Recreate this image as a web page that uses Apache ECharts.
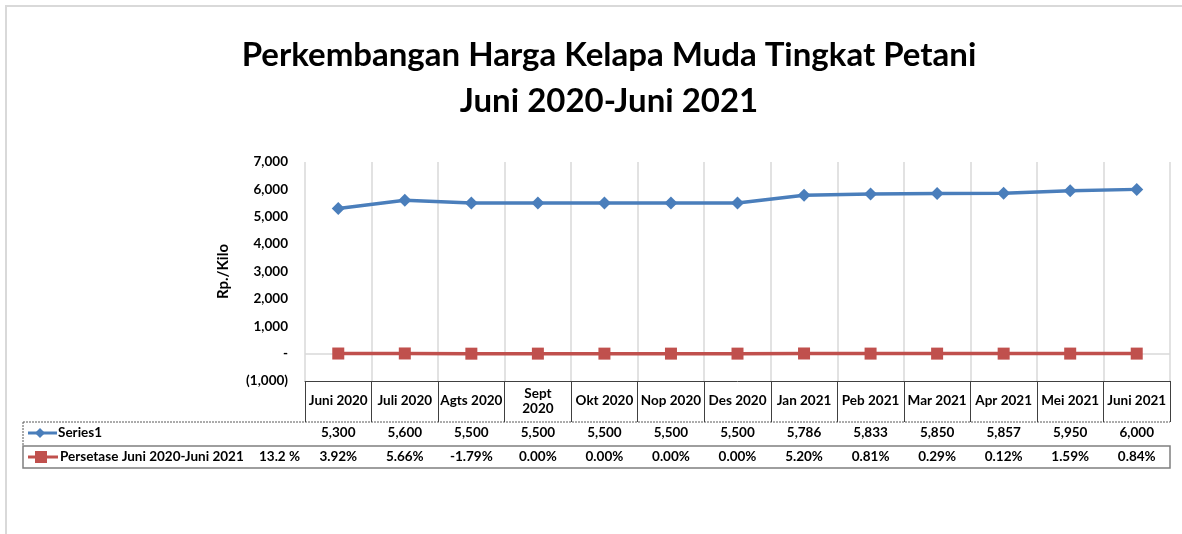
<!DOCTYPE html>
<html>
<head>
<meta charset="utf-8">
<script src="https://cdn.jsdelivr.net/npm/echarts@6/dist/echarts.min.js"></script>
<style>html,body{margin:0;padding:0;background:#fff;}#c{width:1182px;height:534px;}</style>
</head>
<body>
<div id="c"></div>
<script>
var categories = ['Juni 2020','Juli 2020','Agts 2020','Sept\n2020','Okt 2020','Nop 2020','Des 2020','Jan 2021','Peb 2021','Mar 2021','Apr 2021','Mei 2021','Juni 2021'];
var price = [5300,5600,5500,5500,5500,5500,5500,5786,5833,5850,5857,5950,6000];
var pctLabels = ['3.92%','5.66%','-1.79%','0.00%','0.00%','0.00%','0.00%','5.20%','0.81%','0.29%','0.12%','1.59%','0.84%'];
var pct = [3.92,5.66,-1.79,0.00,0.00,0.00,0.00,5.20,0.81,0.29,0.12,1.59,0.84];
var yTicks = [-1000,0,1000,2000,3000,4000,5000,6000,7000];
var seriesNames = ['Series1','Persetase Juni 2020-Juni 2021'];
var totalPct = '13.2 %';

var FONT = 'Lato';
var FS = 13.5;
var chart = echarts.init(document.getElementById('c'));
function fmtNum(v){ return v.toString().replace(/\B(?=(\d{3})+(?!\d))/g, ','); }
var BLUE = '#4a7ebb', RED = '#c0504d';

var option = {
  animation: false,
  textStyle: { fontFamily: FONT },
  title: {
    text: 'Perkembangan Harga Kelapa Muda Tingkat Petani\nJuni 2020-Juni 2021',
    left: 604, top: 27, textAlign: 'center',
    textStyle: { fontFamily: FONT, fontSize: 33, fontWeight: 'bold', color: '#000', lineHeight: 46 }
  },
  grid: { left: 305, right: 12, top: 162, bottom: 153, containLabel: false },
  xAxis: [
    {
      type: 'category', data: categories, position: 'bottom', boundaryGap: true,
      axisLine: { onZero: false, lineStyle: { color: '#404040', width: 1 } },
      axisTick: { show: true, interval: 0, length: 41, lineStyle: { color: '#404040' } },
      splitLine: { show: true, interval: 0, lineStyle: { color: '#d9d9d9', width: 1.5 } },
      axisLabel: { interval: 0, margin: 20, verticalAlign: 'middle', fontFamily: FONT, fontSize: FS, fontWeight: 'bold', color: '#000', lineHeight: 15 }
    },
    {
      type: 'category', data: categories, position: 'bottom', offset: 41, boundaryGap: true,
      axisLine: { show: false, onZero: false }, axisTick: { show: false },
      axisLabel: { interval: 0, margin: 11, verticalAlign: 'middle', fontFamily: FONT, fontSize: FS, fontWeight: 'bold', color: '#000',
        formatter: function(v, i){ return fmtNum(price[i]); } }
    },
    {
      type: 'category', data: categories, position: 'bottom', offset: 64, boundaryGap: true,
      axisLine: { show: false, onZero: false }, axisTick: { show: false },
      axisLabel: { interval: 0, margin: 12, verticalAlign: 'middle', fontFamily: FONT, fontSize: FS, fontWeight: 'bold', color: '#000',
        formatter: function(v, i){ return pctLabels[i]; } }
    }
  ],
  yAxis: {
    type: 'value', min: yTicks[0], max: yTicks[yTicks.length-1], interval: 1000,
    name: 'Rp./Kilo', nameLocation: 'middle', nameGap: 74, nameRotate: 90,
    nameTextStyle: { fontFamily: FONT, fontSize: 15, fontWeight: 'bold', color: '#000' },
    axisLine: { show: false }, axisTick: { show: false }, splitLine: { show: false },
    axisLabel: { margin: 17, fontFamily: FONT, fontSize: FS, fontWeight: 'bold', color: '#000',
      formatter: function(v){ if (v === 0) return '-'; if (v < 0) return '(' + fmtNum(-v) + ')'; return fmtNum(v); } }
  },
  series: [
    {
      name: seriesNames[0], type: 'line', data: price, xAxisIndex: 0,
      symbol: 'diamond', symbolSize: 13, lineStyle: { color: BLUE, width: 3.5 }, itemStyle: { color: BLUE }, z: 3
    },
    {
      name: seriesNames[1], type: 'line', data: pct, xAxisIndex: 0,
      symbol: 'rect', symbolSize: 12, lineStyle: { color: RED, width: 3.5 }, itemStyle: { color: RED }, z: 3,
      markLine: { silent: true, symbol: 'none', label: { show: false }, lineStyle: { color: '#d9d9d9', type: 'solid', width: 1.5 }, data: [{ yAxis: 0 }], z: 1 }
    }
  ],
  graphic: [
    { type: 'rect', shape: { x: 6, y: 6, width: 1200, height: 600 }, style: { fill: 'none', stroke: '#d9d9d9', lineWidth: 2 }, silent: true },
    // table borders
    { type: 'line', shape: { x1: 23, y1: 422, x2: 1170, y2: 422 }, style: { stroke: '#595959', lineWidth: 1, lineDash: [2, 1] } },
    { type: 'line', shape: { x1: 23, y1: 422, x2: 23, y2: 445 }, style: { stroke: '#595959', lineWidth: 1, lineDash: [2, 1] } },
    { type: 'rect', shape: { x: 23, y: 446, width: 1147, height: 22 }, style: { fill: 'none', stroke: '#7f7f7f', lineWidth: 1.5 } },
    // legend keys
    { type: 'line', shape: { x1: 28, y1: 433, x2: 57, y2: 433 }, style: { stroke: BLUE, lineWidth: 3 } },
    { type: 'polygon', shape: { points: [[40,428],[45,433],[40,438],[35,433]] }, style: { fill: BLUE } },
    { type: 'text', style: { x: 58, y: 433, text: seriesNames[0], font: 'bold ' + FS + 'px ' + FONT, fill: '#000', verticalAlign: 'middle' } },
    { type: 'line', shape: { x1: 28, y1: 457, x2: 58, y2: 457 }, style: { stroke: RED, lineWidth: 3 } },
    { type: 'rect', shape: { x: 35, y: 451, width: 12, height: 12 }, style: { fill: RED } },
    { type: 'text', style: { x: 60, y: 457, text: seriesNames[1], font: 'bold ' + FS + 'px ' + FONT, fill: '#000', verticalAlign: 'middle' } },
    { type: 'text', style: { x: 259, y: 457, text: totalPct, font: 'bold ' + FS + 'px ' + FONT, fill: '#000', verticalAlign: 'middle' } }
  ]
};
chart.setOption(option);
</script>
</body>
</html>
